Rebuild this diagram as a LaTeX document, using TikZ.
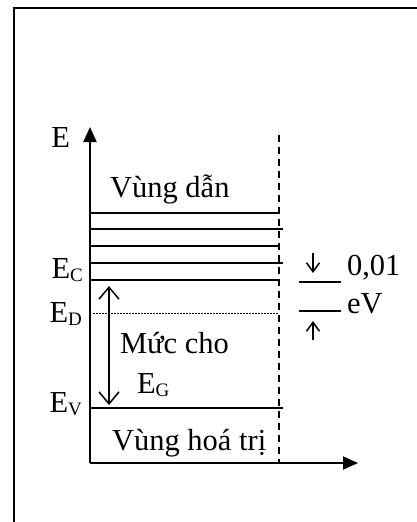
\documentclass[tikz,border=0pt]{standalone}
\usepackage{fontspec}
\setmainfont{Liberation Serif}
\usetikzlibrary{arrows.meta}
\newcommand{\lvlsub}[1]{\raisebox{-3pt}{\fontsize{19}{21}\selectfont #1}}

\begin{document}
\begin{tikzpicture}[x=1pt, y=-1pt, line width=1.5pt, font=\fontsize{30.5}{36}\selectfont,
  axisarrow/.style={-{Triangle[length=15pt,width=13pt]}, line width=2pt},
  gaparrow/.style={{Straight Barb[length=12pt,width=20pt]}-{Straight Barb[length=12pt,width=20pt]}},
  smallarrow/.style={-{Straight Barb[length=9pt,width=13pt]}}]
  \useasboundingbox (0,0) rectangle (417,522);

  % frame
  \draw[line width=2.5pt] (14,522) -- (14,8) -- (417,8);

  % axes
  \coordinate (o) at (90,463);
  \coordinate (etop) at (90,127);
  \coordinate (xend) at (358,463);
  \draw[axisarrow] (o) -- (etop);
  \draw[axisarrow] (o) -- (xend);
  \node[anchor=base east] (elabel) at (74,147) {E};
  \draw[dash pattern=on 7pt off 5pt] (279,135) -- (279,463);

  % conduction band levels
  \node[anchor=base west] (cband) at (106,197) {Vùng dẫn};
  \draw (90,213) -- (279,213);
  \draw (90,229) -- (283,229);
  \draw (90,246) -- (280,246);
  \draw (90,263) -- (283,263);
  \draw (90,280) -- (280,280);
  \node[anchor=base east] (ec) at (87,278) {E\lvlsub{C}};

  % donor level and gap
  \draw[line width=1pt, dash pattern=on 1.5pt off 1.5pt] (93,313) -- (279,313);
  \node[anchor=base east] (ed) at (86,322) {E\lvlsub{D}};
  \coordinate (gtop) at (109,286);
  \coordinate (gbot) at (109,405);
  \draw[gaparrow] (gbot) -- (gtop);
  \node[anchor=base west] (donor) at (116,353) {Mức cho};
  \node[anchor=base west] (eg) at (133,393) {E\lvlsub{G}};

  % valence band
  \draw (90,408) -- (283,408);
  \node[anchor=base east] (ev) at (86,412) {E\lvlsub{V}};
  \node[anchor=base west] (vband) at (108,450) {Vùng hoá trị};

  % level spacing
  \draw (299,282) -- (341,282);
  \draw (299,311) -- (341,311);
  \coordinate (dtop) at (313,253);
  \coordinate (dtip) at (313,273);
  \coordinate (ubot) at (313,340);
  \coordinate (utip) at (313,321);
  \draw[smallarrow] (dtop) -- (dtip);
  \draw[smallarrow] (ubot) -- (utip);
  \node[anchor=base west] (step01) at (343,275) {0,01};
  \node[anchor=base west] (ev01) at (343,313) {eV};
\end{tikzpicture}
\end{document}
